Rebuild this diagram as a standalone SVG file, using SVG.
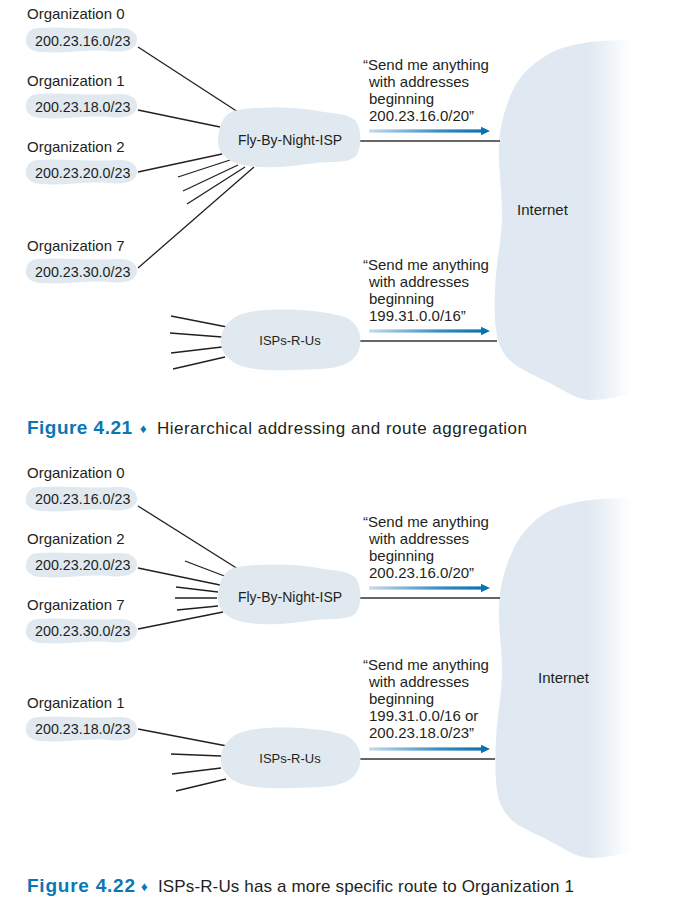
<svg xmlns="http://www.w3.org/2000/svg" width="675" height="904" viewBox="0 0 675 904">
<style>
text{font-family:"Liberation Sans",Arial,sans-serif;fill:#231f20}
.t14{font-size:14.3px}
.lab{font-size:15px}
.msg{font-size:15px}
.t13{font-size:13px}
.fb{font-size:14px}
.blob{fill:#e0e9f0}
.ln{stroke:#231f20;stroke-width:1.3;fill:none}
.ln2{stroke:#333;stroke-width:1.6;fill:none}
.cap{font-size:19px;font-weight:bold;fill:#0a77b5}
.dia{font-size:13px;fill:#0a77b5}
.ctext{font-size:17px}
</style>
<defs>
<path id="orgblob" d="M12,1 C35,-1 62,3 92,1 C107,0 112,8 111,14 C110,22 100,26 84,24 C60,22 36,27 14,25 C3,24 -1,18 0,12 C1,5 5,1 12,1 Z"/>
<path id="fbn" d="M238,110 C260,106 300,107 318,111 C335,114 345,113 355,120 C362,128 362,148 356,156 C348,164 330,161 315,163 C295,166 270,169 250,166 C230,164 217,154 218,140 C219,124 224,112 238,110 Z"/>
<path id="isp" d="M250,312 C275,307 320,310 342,316 C358,321 362,335 360,345 C358,360 345,368 320,369 C295,370 265,372 245,367 C228,363 219,350 221,338 C223,324 233,315 250,312 Z"/>
<linearGradient id="netg" gradientUnits="userSpaceOnUse" x1="588" y1="0" x2="632" y2="0">
<stop offset="0" stop-color="#e0e9f1"/>
<stop offset="1" stop-color="#ffffff"/>
</linearGradient>
<linearGradient id="ag" x1="0" y1="0" x2="1" y2="0">
<stop offset="0" stop-color="#c6dcee"/>
<stop offset="0.6" stop-color="#3a8fc4"/>
<stop offset="1" stop-color="#0a72b0"/>
</linearGradient>
<g id="arrow">
<rect x="0" y="-1.6" width="114" height="3.2" fill="url(#ag)"/>
<polygon points="112,-4.2 121,0 112,4.2" fill="#0a72b0"/>
</g>
</defs>

<!-- Figure 4.21 -->
<g id="internet1">
<path fill="url(#netg)" d="M627,40 C595,40 565,44 547,55 C530,65 518,78 512,92 C505,108 500,125 499,145 C498,165 502,190 502,215 C502,240 496,260 495,290 C494,315 495,330 499,343 C503,355 510,362 520,368 C532,375 545,380 557,387 C568,393 578,400 592,400 C605,400 615,397 627,395 L650,395 L650,40 Z"/>
<text x="517" y="215" style="font-size:15px">Internet</text>
</g>

<g id="connectors1">
<line class="ln" x1="138" y1="47" x2="238" y2="112"/>
<line class="ln" x1="138" y1="110" x2="220" y2="127"/>
<line class="ln" x1="138" y1="172" x2="222" y2="154"/>
<line class="ln" x1="178" y1="177" x2="230" y2="160"/>
<line class="ln" x1="183" y1="191" x2="238" y2="165"/>
<line class="ln" x1="187" y1="204" x2="245" y2="167"/>
<line class="ln" x1="138" y1="268" x2="254" y2="167"/>
<line class="ln2" x1="360" y1="141" x2="500" y2="141"/>
<line class="ln" x1="171" y1="316" x2="227" y2="327"/>
<line class="ln" x1="170" y1="333" x2="222" y2="337"/>
<line class="ln" x1="171" y1="353" x2="222" y2="347"/>
<line class="ln" x1="173" y1="369" x2="225" y2="357"/>
<line class="ln2" x1="360" y1="341" x2="497" y2="341"/>
<use href="#arrow" x="369" y="131"/>
<use href="#arrow" x="369" y="331"/>
</g>

<g id="org0-1">
<text class="lab" x="27" y="19">Organization 0</text>
<use href="#orgblob" class="blob" transform="translate(26,27)"/>
<text class="t14" x="35" y="46">200.23.16.0/23</text>
</g>
<g id="org1-1">
<text class="lab" x="27" y="86">Organization 1</text>
<use href="#orgblob" class="blob" transform="translate(26,93)"/>
<text class="t14" x="35" y="112">200.23.18.0/23</text>
</g>
<g id="org2-1">
<text class="lab" x="27" y="152">Organization 2</text>
<use href="#orgblob" class="blob" transform="translate(26,159)"/>
<text class="t14" x="35" y="178">200.23.20.0/23</text>
</g>
<g id="org7-1">
<text class="lab" x="27" y="251">Organization 7</text>
<use href="#orgblob" class="blob" transform="translate(26,258)"/>
<text class="t14" x="35" y="277">200.23.30.0/23</text>
</g>
<g id="fbn1">
<use href="#fbn" class="blob"/>
<text class="fb" x="290" y="145" text-anchor="middle">Fly-By-Night-ISP</text>
</g>
<g id="isp1">
<use href="#isp" class="blob"/>
<text class="t13" x="290" y="345" text-anchor="middle">ISPs-R-Us</text>
</g>
<g id="msg1a" class="msg">
<text x="363" y="70">“Send me anything</text>
<text x="369" y="87">with addresses</text>
<text x="369" y="104">beginning</text>
<text x="369" y="121">200.23.16.0/20”</text>
</g>
<g id="msg1b" class="msg">
<text x="363" y="270">“Send me anything</text>
<text x="369" y="287">with addresses</text>
<text x="369" y="304">beginning</text>
<text x="369" y="321">199.31.0.0/16”</text>
</g>
<g id="caption1">
<text class="cap" x="27" y="434" textLength="105">Figure 4.21</text>
<text class="dia" x="140" y="433">♦</text>
<text class="ctext" x="157" y="434" textLength="370">Hierarchical addressing and route aggregation</text>
</g>

<!-- Figure 4.22 -->
<g id="internet2">
<path fill="url(#netg)" d="M627,498 C595,498 565,502 547,512 C530,522 518,538 512,552 C505,568 500,585 499,605 C498,625 502,648 502,670 C502,695 497,715 496,740 C495,765 495,785 499,800 C503,812 510,820 520,826 C532,833 545,838 557,845 C568,851 578,858 592,858 C605,858 615,855 627,853 L650,853 L650,498 Z"/>
<text x="538" y="683" style="font-size:15px">Internet</text>
</g>

<g id="connectors2">
<line class="ln" x1="138" y1="506" x2="238" y2="569"/>
<line class="ln" x1="185" y1="561" x2="227" y2="577"/>
<line class="ln" x1="138" y1="568" x2="220" y2="585"/>
<line class="ln" x1="176" y1="587" x2="218" y2="592"/>
<line class="ln" x1="175" y1="598" x2="217" y2="598"/>
<line class="ln" x1="177" y1="610" x2="218" y2="606"/>
<line class="ln" x1="138" y1="629" x2="223" y2="612"/>
<line class="ln2" x1="360" y1="598" x2="500" y2="598"/>
<line class="ln" x1="138" y1="729" x2="227" y2="746"/>
<line class="ln" x1="171" y1="754" x2="221" y2="756"/>
<line class="ln" x1="172" y1="774" x2="221" y2="768"/>
<line class="ln" x1="176" y1="791" x2="226" y2="779"/>
<line class="ln2" x1="360" y1="759" x2="495" y2="759"/>
<use href="#arrow" x="369" y="588"/>
<use href="#arrow" x="369" y="749"/>
</g>

<g id="org0-2">
<text class="lab" x="27" y="478">Organization 0</text>
<use href="#orgblob" class="blob" transform="translate(26,486)"/>
<text class="t14" x="35" y="504">200.23.16.0/23</text>
</g>
<g id="org2-2">
<text class="lab" x="27" y="544">Organization 2</text>
<use href="#orgblob" class="blob" transform="translate(26,552)"/>
<text class="t14" x="35" y="570">200.23.20.0/23</text>
</g>
<g id="org7-2">
<text class="lab" x="27" y="610">Organization 7</text>
<use href="#orgblob" class="blob" transform="translate(26,618)"/>
<text class="t14" x="35" y="636">200.23.30.0/23</text>
</g>
<g id="org1-2">
<text class="lab" x="27" y="708">Organization 1</text>
<use href="#orgblob" class="blob" transform="translate(26,716)"/>
<text class="t14" x="35" y="734">200.23.18.0/23</text>
</g>
<g id="fbn2">
<use href="#fbn" class="blob" transform="translate(0,457)"/>
<text class="fb" x="290" y="602" text-anchor="middle">Fly-By-Night-ISP</text>
</g>
<g id="isp2">
<use href="#isp" class="blob" transform="translate(0,418)"/>
<text class="t13" x="290" y="763" text-anchor="middle">ISPs-R-Us</text>
</g>
<g id="msg2a" class="msg">
<text x="363" y="527">“Send me anything</text>
<text x="369" y="544">with addresses</text>
<text x="369" y="561">beginning</text>
<text x="369" y="578">200.23.16.0/20”</text>
</g>
<g id="msg2b" class="msg">
<text x="363" y="670">“Send me anything</text>
<text x="369" y="687">with addresses</text>
<text x="369" y="704">beginning</text>
<text x="369" y="721">199.31.0.0/16 or</text>
<text x="369" y="738">200.23.18.0/23”</text>
</g>
<g id="caption2">
<text class="cap" x="27" y="892" textLength="108">Figure 4.22</text>
<text class="dia" x="141" y="891">♦</text>
<text class="ctext" x="158" y="892" textLength="416">ISPs-R-Us has a more specific route to Organization 1</text>
</g>
</svg>
